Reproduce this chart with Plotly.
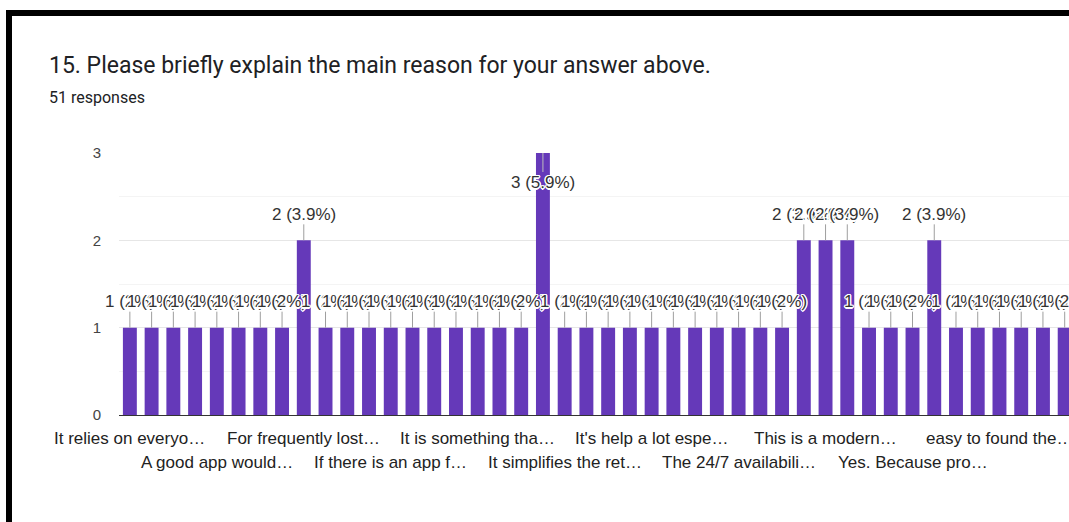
import plotly.graph_objects as go

# ---------------- data ----------------
title_text = "15. Please briefly explain the main reason for your answer above."
subtitle_text = "51 responses"

# response counts for each (truncated) answer, in chart order
counts = [1, 1, 1, 1, 1, 1, 1, 1,
          2,
          1, 1, 1, 1, 1, 1, 1, 1, 1, 1,
          3,
          1, 1, 1, 1, 1, 1, 1, 1, 1, 1, 1,
          2, 2, 2,
          1, 1, 1,
          2,
          1, 1, 1, 1, 1, 1]

# axis labels that are visible (every 4th answer)
label_every = 4
shown_labels = ["It relies on everyo…", "A good app would…", "For frequently lost…",
                "If there is an app f…", "It is something tha…", "It simplifies the ret…",
                "It's help a lot espe…", "The 24/7 availabili…", "This is a modern…",
                "Yes. Because pro…", "easy to found the…"]
y_ticks = [0, 1, 2, 3]

# ---------------- layout constants ----------------
W, H = 1069, 522
L, T, B = 119, 153, 107          # plot margins (px)
SLOT = 21.74                      # px per category
PURPLE = "#6539b9"
FONT = "Liberation Sans, Arial, sans-serif"

total = sum(counts)
n = len(counts)
xs = list(range(n))
plot_w = W - L
plot_h = H - T - B
y_max = max(y_ticks)


def px_to_paper_x(px):
    return (px - L) / plot_w


def px_to_paper_y(py):
    return (H - B - py) / plot_h


def pct(c):
    return f"{round(c / total * 100, 1):g}"


fig = go.Figure()
fig.add_trace(go.Bar(x=xs, y=counts, marker=dict(color=PURPLE, line=dict(width=0)),
                     width=0.64, hoverinfo="skip"))

halo = ("1.5px 0 0.5px #fff, -1.5px 0 0.5px #fff, 0 1.5px 0.5px #fff, 0 -1.5px 0.5px #fff, "
        "1px 1px 0.5px #fff, -1px -1px 0.5px #fff, 1px -1px 0.5px #fff, -1px 1px 0.5px #fff")

annotations = []
# data labels with leader lines
for i, c in enumerate(counts):
    below = c >= y_max
    annotations.append(dict(
        x=i, y=c, xref="x", yref="y",
        text=f"{c} ({pct(c)}%)",
        showarrow=True, arrowhead=0, arrowwidth=1,
        arrowcolor="#bdbdbd" if below else "#9e9e9e",
        ax=0, ay=29 if below else -26,
        font=dict(family=FONT, size=17, color="#333333", shadow=halo),
        borderpad=0,
    ))

# category labels on two alternating rows
for j, lab in enumerate(shown_labels):
    annotations.append(dict(
        x=j * label_every, y=0, xref="x", yref="paper",
        text=lab, showarrow=False, xanchor="center", yanchor="middle",
        yshift=-23 if j % 2 == 0 else -47,
        font=dict(family=FONT, size=17, color="#222222"),
    ))

# title and subtitle
annotations.append(dict(
    x=px_to_paper_x(47), y=px_to_paper_y(65), xref="paper", yref="paper",
    text=title_text, showarrow=False, xanchor="left", yanchor="middle",
    font=dict(family="Roboto, sans-serif", size=23, color="#202124"),
))
annotations.append(dict(
    x=px_to_paper_x(47), y=px_to_paper_y(97), xref="paper", yref="paper",
    text=subtitle_text, showarrow=False, xanchor="left", yanchor="middle",
    font=dict(family="Roboto, sans-serif", size=16, color="#202124"),
))

shapes = [
    # black frame (top and left)
    dict(type="rect", xref="paper", yref="paper",
         x0=px_to_paper_x(6), x1=px_to_paper_x(W + 5),
         y0=px_to_paper_y(16), y1=px_to_paper_y(10),
         fillcolor="black", line=dict(width=0), layer="above"),
    dict(type="rect", xref="paper", yref="paper",
         x0=px_to_paper_x(6), x1=px_to_paper_x(12),
         y0=px_to_paper_y(H + 5), y1=px_to_paper_y(10),
         fillcolor="black", line=dict(width=0), layer="above"),
]

fig.update_layout(
    width=W, height=H, autosize=False,
    margin=dict(l=L, r=0, t=T, b=B, pad=0),
    paper_bgcolor="white", plot_bgcolor="white",
    showlegend=False,
    annotations=annotations,
    shapes=shapes,
    bargap=0.36,
)
fig.update_xaxes(range=[-0.5, -0.5 + plot_w / SLOT], showticklabels=False, showgrid=False,
                 zeroline=False, showline=False, ticks="", fixedrange=True)
fig.update_yaxes(range=[0, y_max], tickvals=y_ticks, ticks="", ticklabelstandoff=17,
                 tickfont=dict(family=FONT, size=15, color="#444444"),
                 showgrid=True, gridcolor="#e6e6e6", gridwidth=1,
                 minor=dict(dtick=0.5, showgrid=True, gridcolor="#f4f4f4", gridwidth=1),
                 zeroline=True, zerolinecolor="#333333", zerolinewidth=1,
                 showline=False, fixedrange=True)

fig.write_html("out.html", config={"displayModeBar": False})
